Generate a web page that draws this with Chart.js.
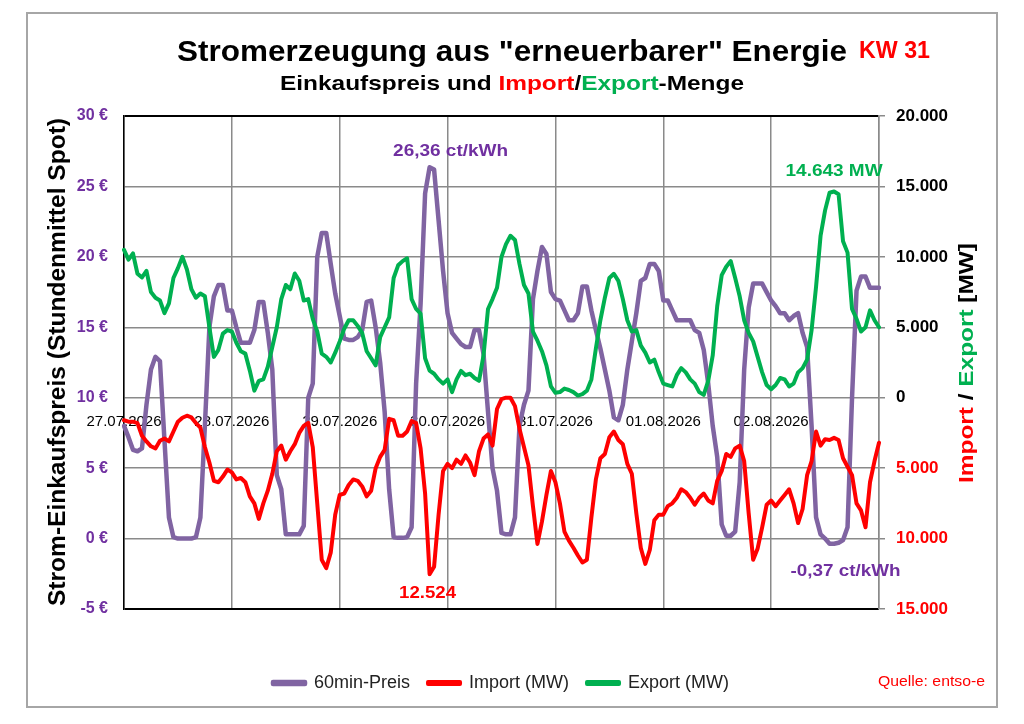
<!DOCTYPE html>
<html>
<head>
<meta charset="utf-8">
<script src="https://cdn.jsdelivr.net/npm/chart.js@4.4.1/dist/chart.umd.min.js"></script>
<style>
  html, body { margin: 0; padding: 0; background: #fff; }
  canvas { display: block; }
</style>
</head>
<body>
<canvas id="kwChart" width="1024" height="724"></canvas>
<script>
// Tage der Woche (letzter Eintrag = Endpunkt 00:00 am Folgetag)
const days = ['27.07.2026', '28.07.2026', '29.07.2026', '30.07.2026', '31.07.2026', '01.08.2026', '02.08.2026', '03.08.2026'];

// Stundenmittel Spotpreis (ct/kWh), 169 Werte
const price = [
  8.0, 7.2, 6.3, 6.2, 6.4, 9.5, 12.0, 12.9, 12.6, 7.0, 1.5, 0.1, 0.0, 0.0, 0.0, 0.0, 0.1, 1.5, 8.0, 15.0, 17.2, 18.0, 18.0, 16.2,
  16.2, 15.0, 13.9, 13.9, 13.9, 14.8, 16.8, 16.8, 14.6, 12.0, 4.5, 3.5, 0.3, 0.3, 0.3, 0.3, 0.9, 10.0, 11.0, 20.0, 21.7, 21.7, 19.5, 17.4,
  15.8, 14.2, 14.1, 14.1, 14.3, 14.8, 16.8, 16.9, 15.0, 12.5, 9.0, 3.5, 0.1, 0.05, 0.05, 0.1, 0.8, 11.0, 16.7, 24.5, 26.36, 26.2, 22.6, 19.0,
  16.0, 14.6, 14.2, 13.8, 13.6, 13.6, 14.8, 14.8, 13.1, 9.0, 5.0, 3.4, 0.4, 0.3, 0.3, 1.5, 8.0, 9.5, 10.5, 17.0, 19.0, 20.7, 20.2, 17.5,
  17.0, 16.9, 16.2, 15.5, 15.5, 16.0, 17.9, 17.9, 16.2, 14.8, 13.5, 12.0, 10.5, 8.6, 8.4, 9.5, 12.0, 14.0, 16.0, 18.3, 18.5, 19.5, 19.5, 19.0,
  16.9, 16.9, 16.2, 15.5, 15.5, 15.5, 15.5, 14.8, 14.6, 13.4, 11.0, 8.0, 5.8, 1.0, 0.2, 0.2, 0.5, 4.0, 12.0, 16.4, 18.1, 18.1, 18.1, 17.5,
  16.9, 16.5, 16.0, 16.0, 15.5, 15.8, 16.0, 14.6, 13.6, 8.0, 1.5, 0.3, 0.0, -0.37, -0.37, -0.3, -0.1, 0.8, 10.0, 17.6, 18.6, 18.6, 17.8, 17.8,
  17.8
];

// Import (MW), als positive Menge
const importMW = [
  1600, 1700, 1700, 1800, 2700, 3100, 3450, 3600, 3060, 2900, 3100, 2400, 1700, 1420, 1280, 1400, 1800, 2130, 3500, 4600, 5900, 6000, 5600, 5100,
  5300, 5800, 5700, 6000, 7000, 7500, 8600, 7500, 6600, 5400, 3800, 3400, 4400, 3800, 3300, 2500, 2000, 1780, 3500, 7500, 11500, 12100, 11000, 8300,
  6900, 6800, 6200, 5800, 5900, 6300, 7000, 6600, 5000, 4200, 3700, 1500, 1600, 2700, 2700, 2400, 1650, 1800, 3600, 6800, 12524, 12000, 8300, 5200,
  4700, 5000, 4400, 4700, 4100, 4600, 5500, 3800, 2900, 2600, 3400, 800, 100, 0, 0, 600, 2200, 3500, 4800, 7700, 10380, 8800, 6900, 5200,
  6000, 7500, 9500, 10150, 10650, 11200, 11700, 11500, 8500, 5800, 4300, 4000, 2800, 2400, 3000, 3300, 4700, 5400, 8200, 10670, 11800, 10800, 8700, 8300,
  8300, 7700, 7500, 7100, 6500, 6700, 7100, 7600, 7100, 6800, 7300, 7500, 5900, 5200, 4000, 4200, 3600, 3400, 4500, 8200, 11500, 10700, 9200, 7600,
  7300, 7700, 7300, 6900, 6500, 7500, 8900, 7900, 5500, 4500, 2400, 3400, 2950, 3000, 2850, 3000, 4300, 4900, 5500, 7500, 8000, 9200, 6000, 4500,
  3200
];

// Export (MW)
const exportMW = [
  10500, 9800, 10240, 8800, 8540, 9000, 7500, 7100, 6900, 6000, 6700, 8500, 9200, 10000, 9100, 7700, 7100, 7400, 7200, 5000, 2900, 3400, 4550, 4800,
  4700, 3900, 3300, 3130, 1920, 500, 1200, 1300, 2200, 3600, 5000, 7000, 8000, 7700, 8820, 8300, 6900, 7000, 5600, 4700, 3130, 2900, 2500, 3200,
  4000, 4900, 5500, 5500, 5100, 4600, 3300, 2800, 2300, 4300, 5000, 5700, 8500, 9400, 9700, 9900, 7000, 6300, 5970, 2800, 1920, 1700, 1300, 1000,
  1300, 400, 1300, 1900, 1600, 1700, 1400, 1200, 3000, 6300, 7000, 7800, 10000, 10900, 11500, 11200, 9500, 8000, 7400, 4700, 4050, 3300, 2300, 800,
  350, 400, 650, 550, 400, 150, 250, 500, 1300, 3500, 5500, 7100, 8500, 8800, 8300, 7000, 5500, 4700, 4800, 3700, 3200, 2500, 2700, 1800,
  1000, 900, 800, 1600, 2100, 1800, 1300, 1000, 400, 200, 1200, 3000, 6500, 8700, 9300, 9700, 8500, 7200, 5500, 4600, 4000, 2900, 1800, 900,
  600, 900, 1400, 1300, 800, 1000, 1800, 2100, 2700, 4800, 7900, 11500, 13300, 14550, 14643, 14450, 11100, 10300, 6300, 5600, 4700, 5000, 6200, 5500,
  5000
];

// Achsen-Ticks
const priceTicks = { min: -5, max: 30, step: 5 };
const mwTicks = { min: -15000, max: 20000, step: 5000 };

const labels = price.map((v, i) => days[Math.floor(i / 24)] + ' ' + String(i % 24).padStart(2, '0') + ':00');

const PURPLE_LINE = '#8064A2';
const PURPLE_TEXT = '#7030A0';
const RED = '#FF0000';
const GREEN = '#00B050';
const GRID = '#8a8a8a';
const FONT = "'Liberation Sans', Arial, sans-serif";

Chart.defaults.font.family = FONT;

const de = (v, d) => v.toLocaleString('de-DE', { minimumFractionDigits: d, maximumFractionDigits: d });

// Text in Teilstuecken (verschiedene Farben) auf Zielbreite gestaucht/gestreckt
function drawRuns(ctx, runs, x, y, font, width, align) {
  ctx.save();
  ctx.font = font;
  ctx.textBaseline = 'alphabetic';
  ctx.textAlign = 'left';
  const natural = runs.reduce((s, r) => s + ctx.measureText(r.t).width, 0);
  const sx = width / natural;
  const x0 = align === 'center' ? x - width / 2 : x;
  ctx.translate(x0, y);
  ctx.scale(sx, 1);
  let cx = 0;
  runs.forEach(r => {
    ctx.fillStyle = r.c;
    ctx.fillText(r.t, cx, 0);
    cx += ctx.measureText(r.t).width;
  });
  ctx.restore();
}

function drawRotated(ctx, runs, cx, cy, font, width) {
  ctx.save();
  ctx.translate(cx, cy);
  ctx.rotate(-Math.PI / 2);
  drawRuns(ctx, runs, 0, 0, font, width, 'center');
  ctx.restore();
}

const deco = {
  id: 'deco',
  beforeDraw(chart) {
    const ctx = chart.ctx;
    ctx.save();
    ctx.fillStyle = '#fff';
    ctx.fillRect(0, 0, chart.width, chart.height);
    ctx.strokeStyle = '#a6a6a6';
    ctx.lineWidth = 2;
    ctx.strokeRect(27, 13, 970, 694);
    ctx.restore();
  },
  afterLayout(chart) {
    const lg = chart.legend;
    const h = lg.height;
    lg.top = 679 - h / 2;
    lg.bottom = lg.top + h;
    const w = lg.width;
    lg.left = 273 - lg.options.labels.padding;
    lg.right = lg.left + w;
  },
  afterDatasetsDraw(chart) {
    const ctx = chart.ctx;
    const x = chart.scales.x, y = chart.scales.y, y1 = chart.scales.y1;
    const bold16 = 'bold 16px ' + FONT;

    const iMax = price.indexOf(Math.max(...price));
    drawRuns(ctx, [{ t: de(price[iMax], 2) + ' ct/kWh', c: PURPLE_TEXT }],
      x.getPixelForValue(iMax) + 21, y.getPixelForValue(price[iMax]) - 11, bold16, 115, 'center');

    const iMin = price.indexOf(Math.min(...price));
    drawRuns(ctx, [{ t: de(price[iMin], 2) + ' ct/kWh', c: PURPLE_TEXT }],
      x.getPixelForValue(iMin) + 16, y.getPixelForValue(price[iMin]) + 32, bold16, 110, 'center');

    const eMax = exportMW.indexOf(Math.max(...exportMW));
    drawRuns(ctx, [{ t: de(exportMW[eMax], 0) + ' MW', c: GREEN }],
      x.getPixelForValue(eMax) + 0, y1.getPixelForValue(exportMW[eMax]) - 15, bold16, 97, 'center');

    const mMax = importMW.indexOf(Math.max(...importMW));
    drawRuns(ctx, [{ t: de(importMW[mMax], 0), c: RED }],
      x.getPixelForValue(mMax) - 2, y1.getPixelForValue(-importMW[mMax]) + 24, bold16, 57, 'center');
  },
  afterDraw(chart) {
    const ctx = chart.ctx;
    drawRuns(ctx, [{ t: 'Stromerzeugung aus "erneuerbarer" Energie', c: '#000' }], 177, 61, 'bold 29px ' + FONT, 670);
    drawRuns(ctx, [{ t: 'KW 31', c: RED }], 859, 58, 'bold 23px ' + FONT, 71);
    drawRuns(ctx, [
      { t: 'Einkaufspreis und ', c: '#000' },
      { t: 'Import', c: RED },
      { t: '/', c: '#000' },
      { t: 'Export', c: GREEN },
      { t: '-Menge', c: '#000' }
    ], 280, 90, 'bold 21px ' + FONT, 464);

    drawRotated(ctx, [{ t: 'Strom-Einkaufspreis (Stundenmittel Spot)', c: '#000' }], 65, 362, 'bold 24px ' + FONT, 488);
    drawRotated(ctx, [
      { t: 'Import', c: RED },
      { t: ' / ', c: '#000' },
      { t: 'Export', c: GREEN },
      { t: ' [MW]', c: '#000' }
    ], 973, 363, 'bold 21px ' + FONT, 240);

    drawRuns(ctx, [{ t: 'Quelle: entso-e', c: RED }], 878, 686, '15px ' + FONT, 107);
  }
};

const ctx = document.getElementById('kwChart').getContext('2d');

new Chart(ctx, {
  type: 'line',
  data: {
    labels: labels,
    datasets: [
      {
        label: '60min-Preis',
        data: price,
        yAxisID: 'y',
        borderColor: PURPLE_LINE,
        backgroundColor: PURPLE_LINE,
        borderWidth: 4.5,
        order: 3
      },
      {
        label: 'Import (MW)',
        data: importMW.map(v => -v),
        yAxisID: 'y1',
        borderColor: RED,
        backgroundColor: RED,
        borderWidth: 4,
        order: 1
      },
      {
        label: 'Export (MW)',
        data: exportMW,
        yAxisID: 'y1',
        borderColor: GREEN,
        backgroundColor: GREEN,
        borderWidth: 4,
        order: 2
      }
    ]
  },
  options: {
    responsive: false,
    animation: false,
    layout: { padding: { left: 0, right: 0, top: 116, bottom: 69 } },
    elements: {
      point: { radius: 0 },
      line: { tension: 0, borderJoinStyle: 'round', borderCapStyle: 'round' }
    },
    scales: {
      x: {
        position: { y: 10 },
        afterFit: s => { s.height = 0; },
        grid: {
          color: c => (c.index % 24 === 0 ? GRID : 'rgba(0,0,0,0)'),
          lineWidth: 1.5,
          drawTicks: false
        },
        border: { display: false },
        ticks: {
          autoSkip: false,
          maxRotation: 0,
          padding: 15,
          color: '#000',
          font: { size: 15 },
          callback: (v, i) => (i % 24 === 0 && i < 168 ? days[i / 24] : '')
        }
      },
      y: {
        position: 'left',
        min: priceTicks.min,
        max: priceTicks.max,
        afterFit: s => { s.width = 124; },
        grid: {
          color: c => (c.tick.value === priceTicks.max || c.tick.value === priceTicks.min ? '#000' : GRID),
          lineWidth: c => (c.tick.value === priceTicks.max || c.tick.value === priceTicks.min ? 2 : 1.5),
          drawTicks: false
        },
        border: { color: '#000', width: 1.5 },
        ticks: {
          stepSize: priceTicks.step,
          padding: 16,
          color: PURPLE_TEXT,
          font: { size: 16, weight: 'bold' },
          callback: v => v + ' €'
        }
      },
      y1: {
        position: 'right',
        min: mwTicks.min,
        max: mwTicks.max,
        afterFit: s => { s.width = 145; },
        grid: {
          drawOnChartArea: false,
          color: GRID,
          lineWidth: 1.5,
          tickLength: 6
        },
        border: { color: GRID, width: 1.5 },
        ticks: {
          stepSize: mwTicks.step,
          padding: 11,
          color: c => (c.tick.value < 0 ? RED : '#000'),
          font: { size: 17, weight: 'bold' },
          callback: v => Math.abs(v).toLocaleString('de-DE')
        }
      }
    },
    plugins: {
      legend: {
        position: 'bottom',
        align: 'start',
        labels: {
          boxWidth: 32,
          boxHeight: 2,
          padding: 18,
          color: '#222',
          font: { size: 18 },
          sort: (a, b) => a.datasetIndex - b.datasetIndex
        }
      },
      tooltip: { enabled: false }
    }
  },
  plugins: [deco]
});
</script>
</body>
</html>
